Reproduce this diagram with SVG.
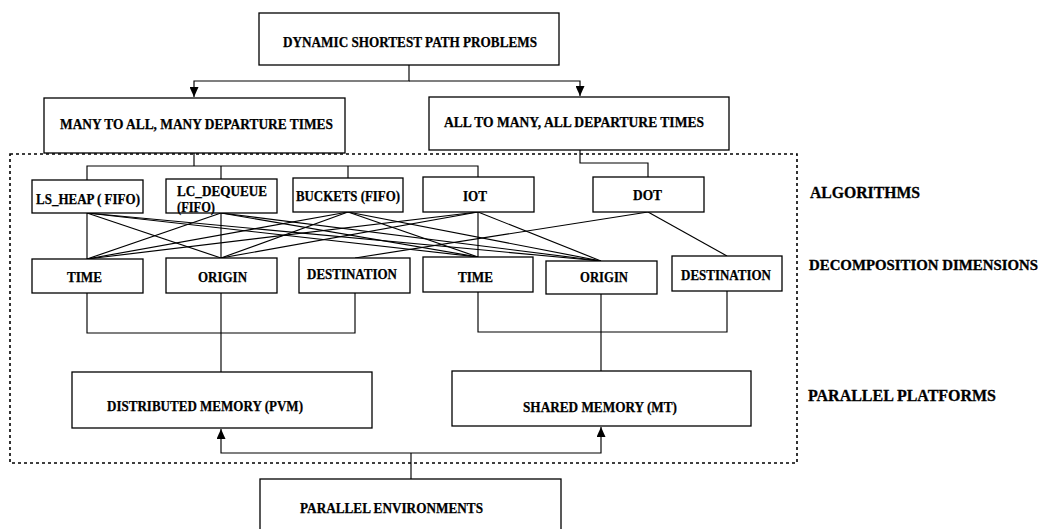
<svg xmlns="http://www.w3.org/2000/svg" width="1052" height="529" viewBox="0 0 1052 529">
  <style>
    .box { fill: #fff; stroke: #000; stroke-width: 1.3; }
    .lbl { font-family: "Liberation Serif", "Times New Roman", serif; font-weight: bold; font-size: 14px; fill: #000; stroke: #000; stroke-width: 0.25; }
    .side { font-family: "Liberation Serif", "Times New Roman", serif; font-weight: bold; font-size: 16px; fill: #000; stroke: #000; stroke-width: 0.3; }
    .side.long { font-size: 14.5px; }
    .wire { fill: none; stroke: #000; stroke-width: 1.15; }
    .frame { fill: none; stroke: #000; stroke-width: 1.6; stroke-dasharray: 3 3; }
  </style>
  <defs>
    <marker id="tip" viewBox="0 0 10 10" refX="10" refY="5" markerWidth="10" markerHeight="9" markerUnits="userSpaceOnUse" orient="auto" preserveAspectRatio="none">
      <path d="M0,0 L10,5 L0,10 Z" fill="#000"/>
    </marker>
  </defs>

  <rect width="1052" height="529" fill="#fff"/>

  <!-- dotted frame around algorithms, decompositions and platforms -->
  <rect class="frame" x="10" y="154" width="787" height="309"/>

  <!-- connectors -->
  <g id="connectors">
    <!-- root split -->
    <path class="wire" d="M409,65 V81 H194 V97" marker-end="url(#tip)"/>
    <path class="wire" d="M409,81 H580 V96" marker-end="url(#tip)"/>

    <!-- many-to-all branch to its algorithms -->
    <path class="wire" d="M194,153 V166"/>
    <path class="wire" d="M87,180 V166 H478 V177"/>
    <path class="wire" d="M221,166 V179"/>
    <path class="wire" d="M348,166 V178"/>

    <!-- all-to-many branch to DOT -->
    <path class="wire" d="M580,150 V163 H648 V177"/>

    <!-- algorithms to decomposition dimensions -->
    <path class="wire" d="M87,213 V259"/>
    <path class="wire" d="M87,213 L221,258"/>
    <path class="wire" d="M87,213 L478,257"/>
    <path class="wire" d="M87,213 L601,261"/>

    <path class="wire" d="M221,213 V258"/>
    <path class="wire" d="M221,213 L87,259"/>
    <path class="wire" d="M221,213 L478,257"/>
    <path class="wire" d="M221,213 L601,261"/>

    <path class="wire" d="M348,212 L87,259"/>
    <path class="wire" d="M348,212 L221,258"/>
    <path class="wire" d="M348,212 L478,257"/>
    <path class="wire" d="M348,212 L601,261"/>

    <path class="wire" d="M478,212 V257"/>
    <path class="wire" d="M478,212 L87,259"/>
    <path class="wire" d="M478,212 L221,258"/>
    <path class="wire" d="M478,212 L601,261"/>

    <path class="wire" d="M648,212 L355,258"/>
    <path class="wire" d="M648,212 L727,256"/>

    <!-- decomposition groups to platforms -->
    <path class="wire" d="M87,293 V333 H355 V293"/>
    <path class="wire" d="M221,293 V372"/>
    <path class="wire" d="M478,292 V332 H727 V291"/>
    <path class="wire" d="M601,294 V371"/>

    <!-- environments feeding both platforms -->
    <path class="wire" d="M411,479 V453"/>
    <path class="wire" d="M411,453 H221 V429" marker-end="url(#tip)"/>
    <path class="wire" d="M411,453 H601 V427" marker-end="url(#tip)"/>
  </g>

  <!-- problem classes -->
  <g id="node-dspp">
    <rect class="box" x="259" y="13" width="300" height="52"/>
    <text class="lbl" x="283" y="47" textLength="254" lengthAdjust="spacingAndGlyphs">DYNAMIC SHORTEST PATH PROBLEMS</text>
  </g>
  <g id="node-many-to-all">
    <rect class="box" x="44" y="98" width="301" height="55"/>
    <text class="lbl" x="60" y="129" textLength="273" lengthAdjust="spacingAndGlyphs">MANY TO ALL,  MANY DEPARTURE TIMES</text>
  </g>
  <g id="node-all-to-many">
    <rect class="box" x="429" y="97" width="300" height="53"/>
    <text class="lbl" x="444" y="127" textLength="260" lengthAdjust="spacingAndGlyphs">ALL TO MANY,  ALL DEPARTURE TIMES</text>
  </g>

  <!-- algorithms -->
  <g id="node-ls-heap">
    <rect class="box" x="32" y="180" width="111" height="33"/>
    <text class="lbl" x="36" y="204" textLength="104" lengthAdjust="spacingAndGlyphs">LS_HEAP ( FIFO)</text>
  </g>
  <g id="node-lc-dequeue">
    <rect class="box" x="166" y="179" width="111" height="34"/>
    <text class="lbl" x="177" y="196" textLength="90" lengthAdjust="spacingAndGlyphs">LC_DEQUEUE</text>
    <text class="lbl" x="177" y="212" textLength="38" lengthAdjust="spacingAndGlyphs">(FIFO)</text>
  </g>
  <g id="node-buckets">
    <rect class="box" x="293" y="178" width="110" height="34"/>
    <text class="lbl" x="296" y="201" textLength="104" lengthAdjust="spacingAndGlyphs">BUCKETS (FIFO)</text>
  </g>
  <g id="node-iot">
    <rect class="box" x="423" y="177" width="111" height="35"/>
    <text class="lbl" x="463" y="201" textLength="24" lengthAdjust="spacingAndGlyphs">IOT</text>
  </g>
  <g id="node-dot">
    <rect class="box" x="593" y="177" width="111" height="35"/>
    <text class="lbl" x="633" y="200" textLength="29" lengthAdjust="spacingAndGlyphs">DOT</text>
  </g>

  <!-- decomposition dimensions -->
  <g id="node-time-1">
    <rect class="box" x="32" y="259" width="111" height="34"/>
    <text class="lbl" x="67" y="282" textLength="35" lengthAdjust="spacingAndGlyphs">TIME</text>
  </g>
  <g id="node-origin-1">
    <rect class="box" x="166" y="258" width="111" height="35"/>
    <text class="lbl" x="198" y="282" textLength="49" lengthAdjust="spacingAndGlyphs">ORIGIN</text>
  </g>
  <g id="node-destination-1">
    <rect class="box" x="299" y="258" width="111" height="35"/>
    <text class="lbl" x="307" y="279" textLength="90" lengthAdjust="spacingAndGlyphs">DESTINATION</text>
  </g>
  <g id="node-time-2">
    <rect class="box" x="423" y="257" width="110" height="35"/>
    <text class="lbl" x="458" y="282" textLength="35" lengthAdjust="spacingAndGlyphs">TIME</text>
  </g>
  <g id="node-origin-2">
    <rect class="box" x="546" y="261" width="111" height="33"/>
    <text class="lbl" x="580" y="282" textLength="48" lengthAdjust="spacingAndGlyphs">ORIGIN</text>
  </g>
  <g id="node-destination-2">
    <rect class="box" x="672" y="256" width="110" height="35"/>
    <text class="lbl" x="681" y="280" textLength="90" lengthAdjust="spacingAndGlyphs">DESTINATION</text>
  </g>

  <!-- parallel platforms -->
  <g id="node-distributed">
    <rect class="box" x="72" y="372" width="300" height="56"/>
    <text class="lbl" x="107" y="411" textLength="196" lengthAdjust="spacingAndGlyphs">DISTRIBUTED MEMORY (PVM)</text>
  </g>
  <g id="node-shared">
    <rect class="box" x="452" y="371" width="299" height="55"/>
    <text class="lbl" x="523" y="412" textLength="154" lengthAdjust="spacingAndGlyphs">SHARED MEMORY (MT)</text>
  </g>

  <!-- parallel environments -->
  <g id="node-environments">
    <rect class="box" x="260" y="479" width="301" height="60"/>
    <text class="lbl" x="300" y="513" textLength="183" lengthAdjust="spacingAndGlyphs">PARALLEL ENVIRONMENTS</text>
  </g>

  <!-- level captions -->
  <g id="captions">
    <text class="side" x="810" y="198" textLength="110" lengthAdjust="spacingAndGlyphs">ALGORITHMS</text>
    <text class="side long" x="809" y="270" textLength="229" lengthAdjust="spacingAndGlyphs">DECOMPOSITION DIMENSIONS</text>
    <text class="side" x="808" y="401" textLength="188" lengthAdjust="spacingAndGlyphs">PARALLEL PLATFORMS</text>
  </g>
</svg>
